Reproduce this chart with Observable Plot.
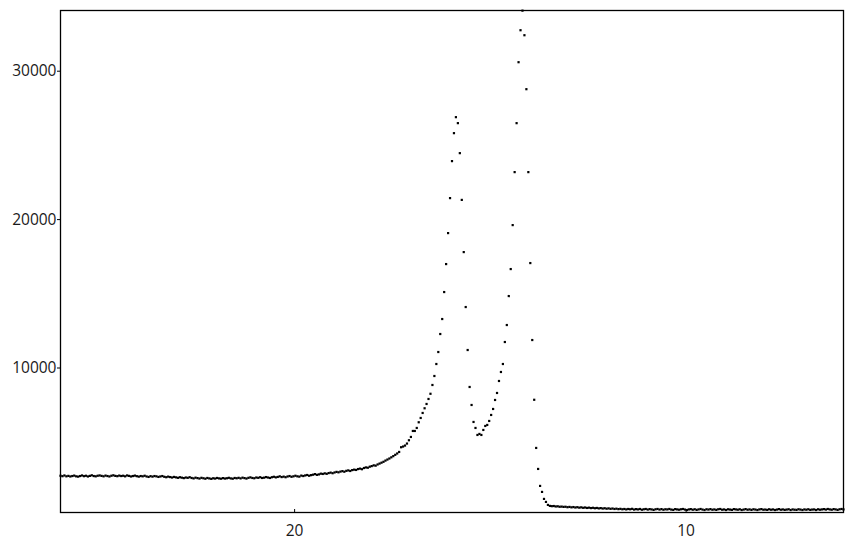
<!DOCTYPE html>
<html><head><meta charset="utf-8">
<script src="https://cdn.jsdelivr.net/npm/d3@7"></script>
<script src="https://cdn.jsdelivr.net/npm/@observablehq/plot@0.6"></script>
<style>body{margin:0;background:#fff}</style>
</head><body><div id="chart"></div>
<script>
// x positions: evenly sampled, first sample at left edge
const xStart = 25.98;
const xStep = 0.05;
// signal values, left to right
const intensity = [
2740,2710,2760,2700,2730,2690,2720,2750,2700,2680,
2720,2760,2710,2740,2690,2730,2770,2720,2700,2740,
2760,2730,2700,2750,2720,2690,2740,2770,2730,2710,
2750,2720,2740,2700,2760,2730,2690,2720,2750,2710,
2680,2720,2700,2740,2690,2660,2710,2680,2720,2700,
2660,2690,2720,2670,2640,2680,2650,2620,2660,2630,
2600,2640,2610,2580,2620,2600,2640,2590,2560,2610,
2580,2550,2600,2570,2540,2590,2560,2530,2570,2550,
2590,2560,2540,2580,2550,2570,2600,2560,2540,2590,
2570,2600,2560,2610,2580,2550,2600,2630,2590,2570,
2620,2600,2640,2590,2610,2650,2620,2590,2640,2670,
2630,2660,2700,2650,2680,2640,2690,2720,2670,2700,
2740,2700,2680,2750,2720,2760,2790,2740,2780,2810,
2850,2800,2830,2880,2860,2900,2870,2920,2950,2910,
2960,3000,2970,3020,3050,3010,3070,3100,3060,3120,
3150,3130,3190,3220,3180,3260,3300,3280,3350,3390,
3440,3420,3500,3560,3620,3680,3760,3830,3900,3980,
4060,4150,4240,
4343,4660,4707,4774,4909,5131,5354,5757,5757,5960,
6343,6633,6970,7286,7576,7913,8263,8855,9461,10269,
11077,12290,13300,15118,17003,19091,21448,23940,25825,26903,
26500,24478,21327,17811,14108,11212,8721,7508,6364,5960,
5488,5556,5488,5825,6094,6162,6431,6835,7239,7845,
8317,9125,9731,10269,11751,12896,14849,16667,19630,23199,
26499,30606,32761,34080,32424,28788,23199,17071,11885,7859,
4613,3198,2054,1650,1178,976,774,707,
690,700,670,680,650,660,640,650,620,640,
610,630,600,620,590,610,580,600,570,590,
560,580,550,570,540,560,530,550,520,540,
510,530,500,520,490,510,480,500,470,500,
480,510,460,490,470,500,450,480,500,460,
490,470,440,480,500,460,490,450,480,470,
500,460,440,490,470,450,480,500,460,430,
470,490,450,480,440,470,500,460,430,480,
460,490,450,470,440,480,500,450,470,430,
480,460,440,490,470,450,480,430,460,490,
450,470,440,480,460,430,470,490,450,460,
440,480,450,470,430,460,490,450,470,440,
460,480,430,470,450,440,480,460,430,470,
450,480,440,460,470,430,480,450,470,490,
460,500,470,450,490,470,440,480,500,470
];
const xTicks = [20, 10];
const yTicks = [10000, 20000, 30000];
const xDomain = [25.98, 5.98];
const yDomain = [263, 34090];

const data = intensity.map((v, i) => ({x: xStart - i * xStep, y: v}));

const chart = Plot.plot({
  width: 853,
  height: 540,
  marginLeft: 60,
  marginRight: 10,
  marginTop: 10,
  marginBottom: 28,
  style: {fontFamily: "'Open Sans', 'Noto Sans', sans-serif", fontSize: "15.5px", color: "#1a1a1a", background: "#fff"},
  x: {domain: xDomain, label: null},
  y: {domain: yDomain, label: null},
  marks: [
    Plot.axisY(yTicks, {tickSize: 3, tickPadding: 1, label: null, fontSize: 15.5, stroke: "#000", tickFormat: d => String(d)}),
    Plot.axisX(xTicks, {tickSize: 0, tickPadding: 12, label: null, fontSize: 15.5, tickFormat: d => String(d)}),
    Plot.tickX(xTicks, {x: d => d, insetTop: 499, stroke: "#000"}),
    Plot.dot(data, {x: "x", y: "y", symbol: "square", r: 1.25, fill: "#000", stroke: null}),
    Plot.frame({stroke: "#000", strokeWidth: 1.3})
  ]
});
document.getElementById("chart").appendChild(chart);
</script>
</body></html>
